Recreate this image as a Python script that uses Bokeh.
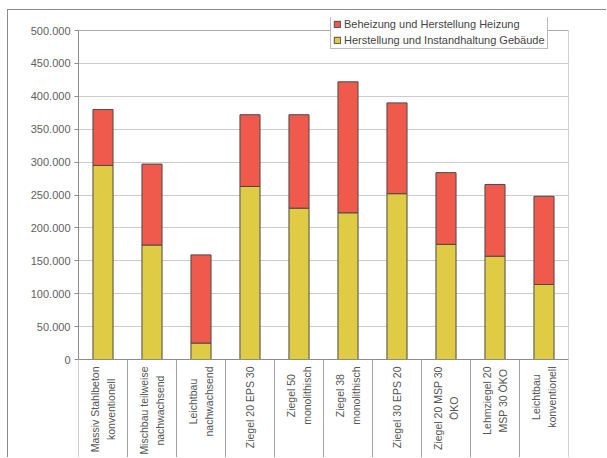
from math import pi

from bokeh.core.properties import value
from bokeh.embed import file_html
from bokeh.models import ColumnDataSource, FactorRange, FixedTicker, Legend, LegendItem, Range1d
from bokeh.plotting import figure
from bokeh.resources import INLINE

# Building variants (axis labels, line breaks as printed)
categories = [
    "Massiv Stahlbeton\nkonventionell",
    "Mischbau teilweise\nnachwachsend",
    "Leichtbau\nnachwachsend",
    "Ziegel 20 EPS 30",
    "Ziegel 50\nmonolithisch",
    "Ziegel 38\nmonolithisch",
    "Ziegel 30 EPS 20",
    "Ziegel 20 MSP 30\nÖKO",
    "Lehmziegel 20\nMSP 30 ÖKO",
    "Leichtbau\nkonventionell",
]

# Herstellung und Instandhaltung Gebäude (lower segment)
gebaeude = [295000, 174000, 25000, 263000, 230000, 223000, 252000, 175000, 157000, 114000]
# Beheizung und Herstellung Heizung (upper segment)
heizung = [85000, 123000, 134000, 109000, 142000, 199000, 138000, 109000, 109000, 134000]

y_ticks = [0, 50000, 100000, 150000, 200000, 250000, 300000, 350000, 400000, 450000, 500000]
y_tick_labels = ["0", "50.000", "100.000", "150.000", "200.000", "250.000",
                 "300.000", "350.000", "400.000", "450.000", "500.000"]

series_labels = ["Herstellung und Instandhaltung Gebäude", "Beheizung und Herstellung Heizung"]

FONT = "Liberation Sans"
RED = "#ef5a4c"
YELLOW = "#dfcb44"
EDGE = "#4a4a4a"
AXIS_GREY = "#8c8c8c"

# Vertical layout in pixels: the frame also holds the legend strip on top
# and the category label band below the zero line.
FRAME_TOP = 7
FRAME_H = 441
ZERO_FROM_TOP = 342
PX_PER_MAX = 329          # pixels between 0 and Y_MAX
Y_MAX = 500000
y_top = Y_MAX * ZERO_FROM_TOP / PX_PER_MAX
y_min = -Y_MAX * (FRAME_H - ZERO_FROM_TOP) / PX_PER_MAX

src = ColumnDataSource(dict(cat=categories, gebaeude=gebaeude, heizung=heizung))

p = figure(
    width=599, height=448,
    x_range=FactorRange(*categories),
    y_range=Range1d(y_min, y_top),
    x_axis_location=None,
    output_backend="svg",
    toolbar_location=None,
    min_border_left=70, min_border_right=39, min_border_top=FRAME_TOP, min_border_bottom=0,
)
p.margin = (9, 0, 0, 7)
p.styles = {"border-top": "1px solid #8a8a8a", "border-left": "1px solid #8a8a8a"}
p.outline_line_color = None
p.background_fill_color = "white"
p.border_fill_color = "white"

# grid
p.xgrid.visible = False
p.ygrid.ticker = FixedTicker(ticks=y_ticks)
p.ygrid.grid_line_color = "#cbcbcb"
p.ygrid.grid_line_width = 1

# y axis
yax = p.yaxis[0]
yax.ticker = FixedTicker(ticks=y_ticks)
yax.major_label_overrides = dict(zip(y_ticks, y_tick_labels))
yax.bounds = (0, Y_MAX)
yax.axis_line_color = AXIS_GREY
yax.major_tick_line_color = AXIS_GREY
yax.major_tick_out = 4
yax.major_tick_in = 0
yax.minor_tick_line_color = None
yax.major_label_standoff = 4
yax.major_label_text_font = FONT
yax.major_label_text_font_size = "11px"
yax.major_label_text_color = "#5e5e5e"

# stacked bars
r_geb, r_heiz = p.vbar_stack(
    ["gebaeude", "heizung"], x="cat", width=0.41, source=src,
    fill_color=[YELLOW, RED], line_color=EDGE, line_width=1,
)

# category separators running through the label band, the right frame edge,
# and the top edge of the plot area
n = len(categories)
bounds = list(range(n + 1))
p.segment(x0=bounds, y0=[y_min] * (n + 1), x1=bounds,
          y1=[0] * n + [Y_MAX], line_color="#a2a2a2", line_width=1)
p.segment(x0=[0, 0], y0=[0, Y_MAX], x1=[n, n], y1=[0, Y_MAX],
          line_color=[AXIS_GREY, "#a8a8a8"], line_width=1)

# rotated category labels, hanging from the zero line
p.text(
    x="cat", y=0, text="cat", source=src,
    angle=pi / 2, anchor="center_right", text_align="center", text_baseline="middle",
    y_offset=7, text_font=value(FONT), text_font_size="10.5px",
    text_color="#555555", text_line_height=1.35,
)

legend = Legend(
    items=[
        LegendItem(label=series_labels[1], renderers=[r_heiz]),
        LegendItem(label=series_labels[0], renderers=[r_geb]),
    ],
    location=(252, 409),
    orientation="vertical",
    glyph_width=8, glyph_height=8,
    label_height=12, label_standoff=3,
    spacing=4, padding=2, margin=0,
    label_text_font=FONT, label_text_font_size="11px", label_text_color="#444444",
    border_line_color="#7a7a7a", border_line_width=1,
    background_fill_color="white", background_fill_alpha=1.0,
)
p.add_layout(legend)

open("out.html", "w").write(file_html(p, INLINE))
